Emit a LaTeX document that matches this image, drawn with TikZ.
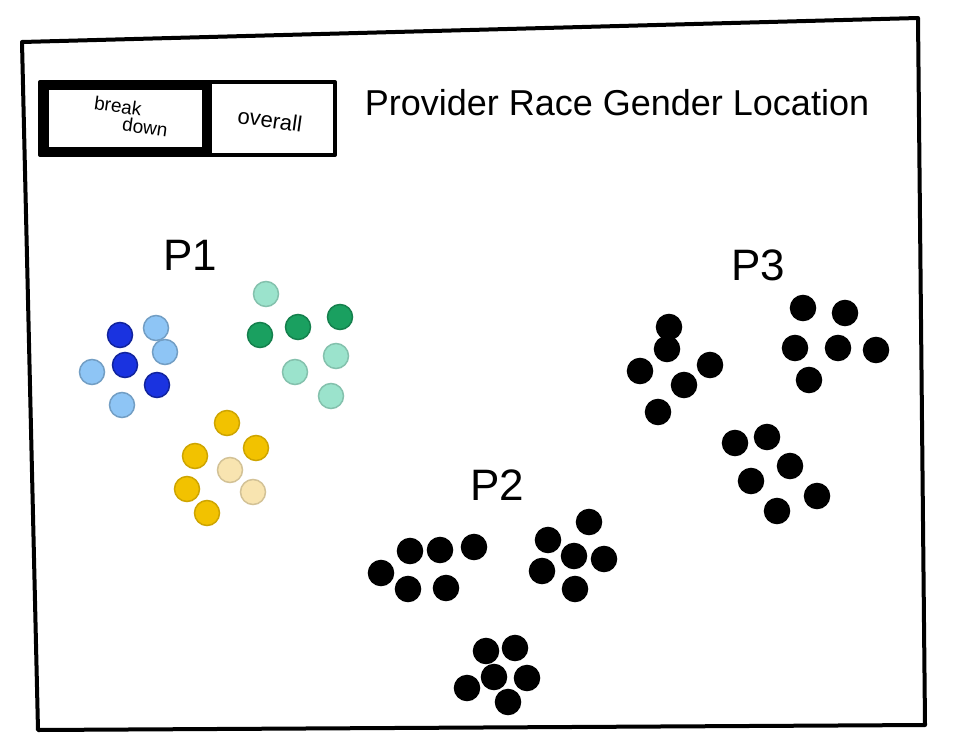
\documentclass[tikz,border=0pt]{standalone}
\usepackage{fontspec}
\setmainfont{Liberation Sans}
\begin{document}
\begin{tikzpicture}[x=1pt,y=-1pt,
  frame/.style={line width=4pt,line join=round},
  dot/.style={circle,minimum size=25pt,inner sep=0pt,draw=black,line width=1.5pt,fill=#1},
  lbl/.style={font=\fontsize{44}{44}\selectfont}]
\useasboundingbox (0,0) rectangle (960,749);
\draw[frame] (22,42) -- (918,18) -- (925,725) -- (38,730) -- cycle;
\draw[frame] (40,82) rectangle (335,155);
\draw[line width=9pt] (44,86) rectangle (206,151);
\draw[line width=3pt] (210,84) -- (210,153);
\node (bd1) at (118,106) [font=\fontsize{19}{19}\selectfont,rotate=-8,inner sep=1pt] {break};
\node (bd2) at (145,127) [font=\fontsize{19}{19}\selectfont,rotate=-8,inner sep=1pt] {down};
\node (ov) at (270,120) [font=\fontsize{22}{22}\selectfont,rotate=-8] {overall};
\node (title) at (617,103) [font=\fontsize{36}{36}\selectfont] {Provider Race Gender Location};
\node (p1) at (190,255) [lbl] {P1};
\node (p2) at (497,485) [lbl] {P2};
\node (p3) at (758,265) [lbl] {P3};
\definecolor{db}{HTML}{1A33E0}\definecolor{lb}{HTML}{8EC5F5}
\definecolor{dg}{HTML}{1AA060}\definecolor{lg}{HTML}{9BE3CC}
\definecolor{gd}{HTML}{F2C200}\definecolor{pl}{HTML}{F8E4B0}
\foreach \x/\y in {120/335,125/365,157/385} \node[dot=db,draw=db!70!black] at (\x,\y) {};
\foreach \x/\y in {156/328,165/352,92/372,122/405} \node[dot=lb,draw=lb!80!black] at (\x,\y) {};
\foreach \x/\y in {260/335,298/327,340/317} \node[dot=dg,draw=dg!80!black] at (\x,\y) {};
\foreach \x/\y in {266/294,295/372,336/356,331/396} \node[dot=lg,draw=lg!85!black] at (\x,\y) {};
\foreach \x/\y in {227/423,256/448,195/456,187/489,207/513} \node[dot=gd,draw=gd!85!black] at (\x,\y) {};
\foreach \x/\y in {230/470,253/492} \node[dot=pl,draw=pl!85!black] at (\x,\y) {};
\foreach \x/\y in {381/573,410/551,440/550,474/547,408/589,446/588,
  589/522,548/540,574/556,604/559,542/571,575/589,
  486/651,515/648,494/677,527/678,467/688,508/702,
  669/327,667/349,640/371,710/365,684/385,658/412,
  803/308,845/313,795/348,838/348,876/350,809/380,
  735/443,767/437,790/466,751/481,777/511,817/496}
  \node[dot=black] at (\x,\y) {};
\end{tikzpicture}
\end{document}
